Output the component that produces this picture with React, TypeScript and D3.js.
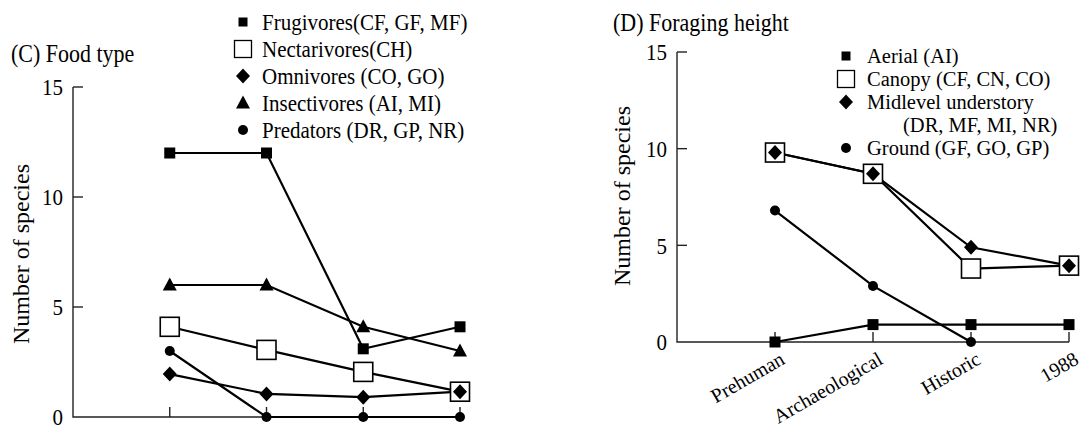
import React from 'react';
import * as d3 from 'd3';

// time periods (x categories)
const categories = ['Prehuman', 'Archaeological', 'Historic', '1988'];
const yTicks = [0, 5, 10, 15];

// (C) food type
const frugivores = [12, 12, 3.1, 4.1];
const nectarivores = [4.1, 3.05, 2.05, 1.15];
const omnivores = [1.95, 1.05, 0.9, 1.15];
const insectivores = [6, 6, 4.1, 3];
const predators = [3, 0, 0, 0];

// (D) foraging height
const aerial = [0, 0.9, 0.9, 0.9];
const canopy = [9.8, 8.7, 3.8, 3.95];
const midlevel = [9.8, 8.7, 4.9, 3.95];
const ground = [6.8, 2.9, 0, null];

const FONT = '"Liberation Serif", "Times New Roman", serif';

type Shape = 'square' | 'open' | 'diamond' | 'triangle' | 'circle';

const Marker = ({ shape, x, y }: { shape: Shape; x: number; y: number }) => {
    if (shape === 'square') return <rect x={x - 5.5} y={y - 5.5} width={11} height={11} fill="#000" />;
    if (shape === 'open')
        return <rect x={x - 9.5} y={y - 9.5} width={19} height={19} fill="#fff" stroke="#000" strokeWidth={1.6} />;
    if (shape === 'diamond')
        return <path d={`M${x},${y - 7.5}L${x + 7},${y}L${x},${y + 7.5}L${x - 7},${y}Z`} fill="#000" />;
    if (shape === 'triangle')
        return <path d={`M${x},${y - 7.5}L${x + 7},${y + 5.5}L${x - 7},${y + 5.5}Z`} fill="#000" />;
    return <circle cx={x} cy={y} r={5} fill="#000" />;
};

// serif text, optionally stretched a little taller like the scanned figure
const Label = ({ x, y, size, children, anchor = 'start', stretch = 1.12 }: any) => (
    <g transform={`translate(${x},${y}) scale(1,${stretch})`}>
        <text dy="0.35em" textAnchor={anchor} fontSize={size} fontFamily={FONT}>
            {children}
        </text>
    </g>
);

type Series = { values: (number | null)[]; shape: Shape };

const Panel = ({
    x0, x1, yBottom, yTop, series, showLabels, yLabelX, yLabelY,
}: {
    x0: number; x1: number; yBottom: number; yTop: number; series: Series[];
    showLabels: boolean; yLabelX: number; yLabelY: number;
}) => {
    const step = (x1 - x0) / 4;
    const x = d3.scalePoint<string>().domain(categories).range([x0 + step, x1]);
    const y = d3.scaleLinear().domain([0, 15]).range([yBottom, yTop]);
    const line = d3
        .line<number | null>()
        .defined((d) => d !== null)
        .x((_, i) => x(categories[i])!)
        .y((d) => y(d as number));

    // open squares first so the small marks sit on top of them
    const order = [...series].sort((a, b) => (a.shape === 'open' ? -1 : 0) - (b.shape === 'open' ? -1 : 0));

    return (
        <g>
            {/* axes */}
            <path d={`M${x0},${yTop}V${yBottom}H${x1}`} fill="none" stroke="#222" strokeWidth={1.4} />
            {yTicks.map((t) => (
                <g key={t}>
                    {t > 0 && <line x1={x0} x2={x0 + 10} y1={y(t)} y2={y(t)} stroke="#222" strokeWidth={1.4} />}
                    <Label x={x0 - 10} y={y(t)} size={21} anchor="end">
                        {t}
                    </Label>
                </g>
            ))}
            {categories.map((c) => (
                <line key={c} x1={x(c)} x2={x(c)} y1={yBottom} y2={yBottom - 10} stroke="#222" strokeWidth={1.4} />
            ))}
            {showLabels &&
                categories.map((c) => (
                    <text
                        key={c}
                        transform={`translate(${x(c)! + 11},${yBottom + 21}) rotate(-30)`}
                        textAnchor="end"
                        fontSize={20}
                        fontFamily={FONT}
                    >
                        {c}
                    </text>
                ))}
            <text
                transform={`translate(${yLabelX},${yLabelY}) rotate(-90)`}
                textAnchor="middle"
                dy="0.35em"
                fontSize={24}
                fontFamily={FONT}
            >
                Number of species
            </text>

            {/* lines */}
            {series.map((s, i) => (
                <path key={i} d={line(s.values) || ''} fill="none" stroke="#000" strokeWidth={2.2} />
            ))}
            {/* markers */}
            {order.map((s, i) =>
                s.values.map((v, j) =>
                    v === null ? null : <Marker key={`${i}-${j}`} shape={s.shape} x={x(categories[j])!} y={y(v)} />
                )
            )}
        </g>
    );
};

const Legend = ({
    x, tx, size, stretch, rows,
}: {
    x: number; tx: number; size: number; stretch: number;
    rows: { y: number; shape?: Shape; text: string; indent?: number }[];
}) => (
    <g>
        {rows.map((r, i) => (
            <g key={i}>
                {r.shape &&
                    (r.shape === 'open' ? (
                        <rect x={x - 8.5} y={r.y - 8.5} width={17} height={17} fill="#fff" stroke="#000" strokeWidth={1.3} />
                    ) : r.shape === 'square' ? (
                        <rect x={x - 4.5} y={r.y - 4.5} width={9} height={9} fill="#000" />
                    ) : (
                        <Marker shape={r.shape} x={x} y={r.y} />
                    ))}
                <Label x={tx + (r.indent || 0)} y={r.y} size={size} stretch={stretch}>
                    {r.text}
                </Label>
            </g>
        ))}
    </g>
);

export default function App() {
    const leftSeries: Series[] = [
        { values: frugivores, shape: 'square' },
        { values: nectarivores, shape: 'open' },
        { values: omnivores, shape: 'diamond' },
        { values: insectivores, shape: 'triangle' },
        { values: predators, shape: 'circle' },
    ];
    const rightSeries: Series[] = [
        { values: aerial, shape: 'square' },
        { values: canopy, shape: 'open' },
        { values: midlevel, shape: 'diamond' },
        { values: ground, shape: 'circle' },
    ];

    return (
        <svg
            width={1087}
            height={432}
            style={{ position: 'absolute', left: 0, top: 0, background: '#fff' }}
        >
            <Label x={11} y={53} size={22}>
                (C) Food type
            </Label>
            <Label x={613} y={22} size={22}>
                (D) Foraging height
            </Label>

            <Panel x0={73} x1={460} yBottom={417} yTop={87} series={leftSeries} showLabels={false} yLabelX={21} yLabelY={254} />
            <Panel x0={677} x1={1069} yBottom={342} yTop={52} series={rightSeries} showLabels={true} yLabelX={622} yLabelY={196} />

            <Legend
                x={243}
                tx={262}
                size={21}
                stretch={1.12}
                rows={[
                    { y: 22, shape: 'square', text: 'Frugivores(CF, GF, MF)' },
                    { y: 49, shape: 'open', text: 'Nectarivores(CH)' },
                    { y: 76, shape: 'diamond', text: 'Omnivores (CO, GO)' },
                    { y: 103, shape: 'triangle', text: 'Insectivores (AI, MI)' },
                    { y: 130, shape: 'circle', text: 'Predators (DR, GP, NR)' },
                ]}
            />
            <Legend
                x={846}
                tx={867}
                size={20.5}
                stretch={1}
                rows={[
                    { y: 56, shape: 'square', text: 'Aerial (AI)' },
                    { y: 79, shape: 'open', text: 'Canopy (CF, CN, CO)' },
                    { y: 102, shape: 'diamond', text: 'Midlevel understory' },
                    { y: 125, text: '(DR, MF, MI, NR)', indent: 36 },
                    { y: 148, shape: 'circle', text: 'Ground (GF, GO, GP)' },
                ]}
            />
        </svg>
    );
}
